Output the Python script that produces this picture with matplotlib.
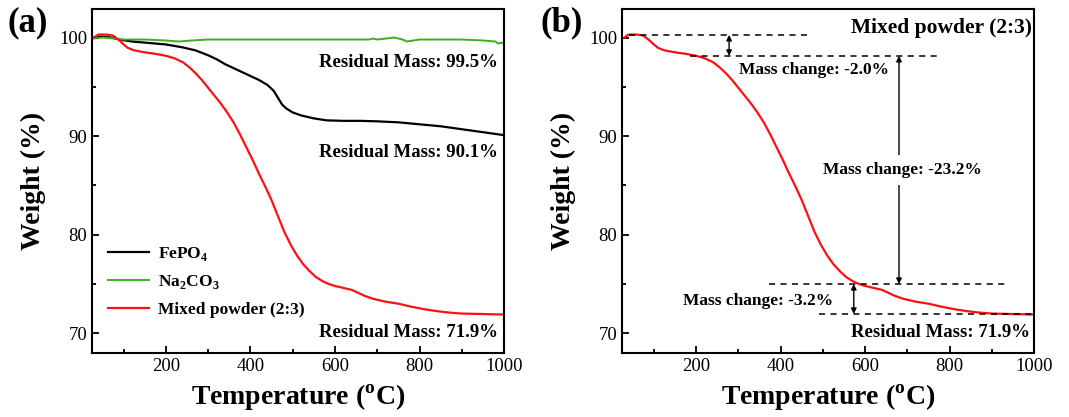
import matplotlib
matplotlib.use("Agg")
import matplotlib.pyplot as plt
import numpy as np

plt.rcParams["font.family"] = ["Liberation Serif", "DejaVu Serif"]
plt.rcParams["mathtext.fontset"] = "custom"
plt.rcParams["mathtext.rm"] = "Liberation Serif"
plt.rcParams["mathtext.bf"] = "Liberation Serif:bold"

# TGA curves (temperature in C, weight in %)
fepo4_t = [30, 50, 70, 90, 120, 160, 200, 240, 270, 300, 320, 340, 360, 380, 400,
           420, 440, 455, 465, 475, 485, 500, 520, 550, 580, 620, 660, 700, 750,
           800, 850, 900, 950, 1000]
fepo4_w = [100.0, 100.1, 100.0, 99.8, 99.6, 99.45, 99.3, 99.0, 98.7, 98.2, 97.8,
           97.3, 96.9, 96.5, 96.1, 95.7, 95.2, 94.6, 93.9, 93.2, 92.8, 92.4, 92.1,
           91.8, 91.6, 91.55, 91.55, 91.5, 91.4, 91.2, 91.0, 90.7, 90.4, 90.1]

na2co3_t = [30, 50, 80, 100, 150, 200, 230, 260, 300, 400, 500, 600, 680, 690, 700,
            740, 760, 770, 800, 900, 950, 980, 985, 1000]
na2co3_w = [99.9, 100.0, 99.9, 99.8, 99.8, 99.7, 99.6, 99.7, 99.8, 99.8, 99.8, 99.8,
            99.8, 99.9, 99.8, 100.0, 99.8, 99.6, 99.8, 99.8, 99.7, 99.6, 99.4, 99.5]

mixed_t = [30, 40, 60, 75, 90, 100, 110, 125, 150, 175, 200, 220, 240, 255, 270,
           285, 300, 315, 330, 345, 360, 375, 390, 405, 420, 435, 450, 465, 480,
           495, 510, 525, 540, 555, 570, 585, 600, 620, 640, 655, 670, 690, 720,
           750, 780, 810, 840, 870, 900, 950, 1000]
mixed_w = [100.0, 100.3, 100.3, 100.2, 99.7, 99.3, 98.95, 98.7, 98.5, 98.35, 98.15,
           97.9, 97.5, 97.0, 96.4, 95.7, 94.9, 94.1, 93.3, 92.4, 91.4, 90.2, 88.9,
           87.6, 86.2, 84.9, 83.5, 81.9, 80.3, 79.0, 77.9, 77.0, 76.3, 75.7, 75.3,
           75.0, 74.8, 74.6, 74.4, 74.1, 73.8, 73.5, 73.2, 73.0, 72.7, 72.45, 72.25,
           72.1, 72.0, 71.95, 71.9]

residual_a = [(97.5, "Residual Mass: 99.5%"), (88.35, "Residual Mass: 90.1%"),
              (70.1, "Residual Mass: 71.9%")]

# (y, x-start, x-end) of dashed reference levels in panel b
levels_b = [(100.27, 42, 462), (98.14, 185, 770), (75.0, 373, 938), (71.96, 490, 1000)]

fig = plt.figure(figsize=(10.69, 4.17), dpi=100)
ax1 = fig.add_axes([0.086, 0.1535, 0.3855, 0.825])
ax2 = fig.add_axes([0.582, 0.1535, 0.3855, 0.825])

for ax in (ax1, ax2):
    ax.set_xlim(25, 1000)
    ax.set_ylim(68, 102.9)
    ax.set_xticks([200, 400, 600, 800, 1000])
    ax.set_xticks(np.arange(100, 1001, 100), minor=True)
    ax.set_yticks([70, 80, 90, 100])
    ax.set_yticks(np.arange(70, 101, 5), minor=True)
    ax.tick_params(which="both", direction="in", labelsize=13.5, width=1.3)
    ax.tick_params(which="major", length=5)
    ax.tick_params(which="minor", length=3)
    for s in ax.spines.values():
        s.set_linewidth(1.5)
    ax.set_xlabel("Temperature ($^{\\mathbf{o}}$C)", fontsize=20, fontweight="bold")
    ax.set_ylabel("Weight (%)", fontsize=20, fontweight="bold")
    ax.xaxis.set_label_coords(0.5, -0.13)
    ax.xaxis.label.set_va("center")
    ax.yaxis.set_label_coords(-0.143, 0.5)
    ax.yaxis.label.set_va("center")

ax1.plot(fepo4_t, fepo4_w, color="black", lw=1.6, label="FePO$_\\mathbf{4}$")
ax1.plot(na2co3_t, na2co3_w, color="#3cb01e", lw=1.4, label="Na$_\\mathbf{2}$CO$_\\mathbf{3}$")
ax1.plot(mixed_t, mixed_w, color="#ff1010", lw=1.6, label="Mixed powder (2:3)")
for y, s in residual_a:
    ax1.text(985, y, s, ha="right", va="center", fontsize=13.5, fontweight="bold")
ax1.legend(loc="upper left", bbox_to_anchor=(0.0, 0.36), frameon=False,
           prop={"weight": "bold", "size": 12.5}, handlelength=2.4, handletextpad=0.5,
           labelspacing=0.6)
fig.text(0.007, 0.945, "(a)", fontsize=25, fontweight="bold", va="center")

ax2.plot(mixed_t, mixed_w, color="#ff1010", lw=1.6)
for y, x0, x1 in levels_b:
    ax2.plot([x0, x1], [y, y], color="black", lw=1.1, ls=(0, (4, 3.5)))
arrow = dict(arrowstyle="<|-|>", color="black", lw=1, mutation_scale=8, shrinkA=0, shrinkB=0)
ax2.annotate("", xy=(278, levels_b[0][0]), xytext=(278, levels_b[1][0]), arrowprops=arrow)
ax2.annotate("", xy=(573, levels_b[2][0]), xytext=(573, levels_b[3][0]), arrowprops=arrow)
ax2.annotate("", xy=(680, levels_b[1][0]), xytext=(680, levels_b[2][0]), arrowprops=arrow)
ax2.text(478, 96.7, "Mass change: -2.0%", ha="center", va="center", fontsize=12.5, fontweight="bold")
ax2.text(688, 86.6, "Mass change: -23.2%", ha="center", va="center", fontsize=12.5,
         fontweight="bold", bbox=dict(facecolor="white", edgecolor="none", pad=5))
ax2.text(346, 73.3, "Mass change: -3.2%", ha="center", va="center", fontsize=12.5, fontweight="bold")
ax2.text(990, 70.1, "Residual Mass: 71.9%", ha="right", va="center", fontsize=13.5, fontweight="bold")
ax2.text(994, 101.0, "Mixed powder (2:3)", ha="right", va="center", fontsize=15.5, fontweight="bold")
fig.text(0.506, 0.945, "(b)", fontsize=25, fontweight="bold", va="center")

fig.savefig("out.png", dpi=100)
